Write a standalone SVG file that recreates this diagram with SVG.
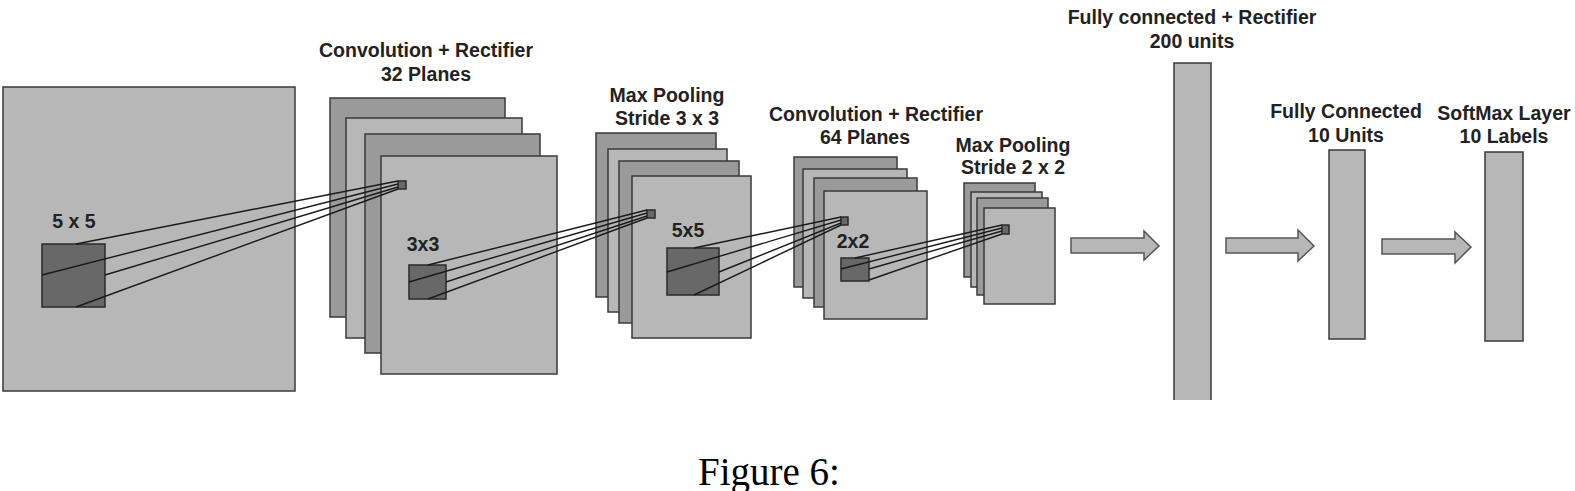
<svg xmlns="http://www.w3.org/2000/svg" width="1575" height="491" viewBox="0 0 1575 491">
<style>
.lt{fill:#b7b7b7;stroke:#3a3a3a;stroke-width:1.5}
.dk{fill:#9a9a9a;stroke:#3a3a3a;stroke-width:1.5}
.sq{fill:#686868;stroke:#2a2a2a;stroke-width:1.5}
.ln{stroke:#1a1a1a;stroke-width:1.4;fill:none}
.ar{fill:#b7b7b7;stroke:#555;stroke-width:1.5}
.lb{font-family:"Liberation Sans",Arial,sans-serif;font-weight:bold;font-size:19.5px;fill:#222;text-anchor:middle}
.cap{font-family:"Liberation Serif","Times New Roman",serif;font-size:39px;fill:#000}
</style>
<rect width="1575" height="491" fill="#fff"/>
<g id="input">
<rect class="lt" x="3" y="87" width="292" height="304"/>
<rect class="sq" x="42" y="244" width="63" height="63"/>
<text class="lb" x="74" y="228">5 x 5</text>
</g>
<g id="conv1">
<text class="lb" x="426" y="57">Convolution + Rectifier</text>
<text class="lb" x="426" y="81">32 Planes</text>
<rect class="dk" x="330" y="98" width="175" height="219"/>
<rect class="lt" x="346" y="118" width="176" height="220"/>
<rect class="dk" x="365" y="134" width="175" height="219"/>
<rect class="lt" x="381" y="156" width="176" height="218"/>
<rect class="sq" x="398" y="181" width="8" height="8"/>
<rect class="sq" x="409" y="265" width="37" height="34"/>
<text class="lb" x="423" y="251">3x3</text>
</g>
<g id="pool1">
<text class="lb" x="667" y="102">Max Pooling</text>
<text class="lb" x="667" y="125">Stride 3 x 3</text>
<rect class="dk" x="596" y="133" width="120" height="164"/>
<rect class="lt" x="608" y="149" width="119" height="163"/>
<rect class="dk" x="619" y="161" width="120" height="162"/>
<rect class="lt" x="632" y="176" width="119" height="162"/>
<rect class="sq" x="647" y="210" width="8" height="8"/>
<rect class="sq" x="667" y="248" width="52" height="47"/>
<text class="lb" x="688" y="237">5x5</text>
</g>
<g id="conv2">
<text class="lb" x="876" y="121">Convolution + Rectifier</text>
<text class="lb" x="865" y="144">64 Planes</text>
<rect class="dk" x="794" y="157" width="103" height="130"/>
<rect class="lt" x="803" y="169" width="104" height="129"/>
<rect class="dk" x="814" y="178" width="103" height="129"/>
<rect class="lt" x="824" y="191" width="103" height="128"/>
<rect class="sq" x="841" y="217" width="7" height="8"/>
<rect class="sq" x="841" y="258" width="28" height="23"/>
<text class="lb" x="853" y="248">2x2</text>
</g>
<g id="pool2">
<text class="lb" x="1013" y="152">Max Pooling</text>
<text class="lb" x="1013" y="174">Stride 2 x 2</text>
<rect class="dk" x="964" y="183" width="71" height="94"/>
<rect class="lt" x="971" y="192" width="71" height="95"/>
<rect class="dk" x="977" y="198" width="71" height="97"/>
<rect class="lt" x="984" y="208" width="71" height="96"/>
<rect class="sq" x="1002" y="225" width="7" height="9"/>
</g>
<g id="fc1">
<text class="lb" x="1192" y="24">Fully connected + Rectifier</text>
<text class="lb" x="1192" y="48">200 units</text>
<rect x="1174" y="63" width="37" height="337" fill="#b7b7b7"/>
<path d="M1174 400 V63 H1211 V400" fill="none" stroke="#3a3a3a" stroke-width="1.5"/>
</g>
<g id="fc2">
<text class="lb" x="1346" y="118">Fully Connected</text>
<text class="lb" x="1346" y="142">10 Units</text>
<rect class="lt" x="1329" y="150" width="36" height="189"/>
</g>
<g id="softmax">
<text class="lb" x="1504" y="120">SoftMax Layer</text>
<text class="lb" x="1504" y="143">10 Labels</text>
<rect class="lt" x="1485" y="152" width="38" height="189"/>
</g>
<g id="connectors">
<line class="ln" x1="76" y1="244" x2="398" y2="181"/>
<line class="ln" x1="42" y1="275" x2="398" y2="184"/>
<line class="ln" x1="105" y1="275" x2="398" y2="187"/>
<line class="ln" x1="76" y1="307" x2="398" y2="189"/>
<line class="ln" x1="428" y1="265" x2="647" y2="210"/>
<line class="ln" x1="409" y1="282" x2="647" y2="213"/>
<line class="ln" x1="446" y1="282" x2="647" y2="216"/>
<line class="ln" x1="428" y1="299" x2="647" y2="218"/>
<line class="ln" x1="694" y1="248" x2="841" y2="217"/>
<line class="ln" x1="667" y1="272" x2="841" y2="220"/>
<line class="ln" x1="719" y1="272" x2="841" y2="223"/>
<line class="ln" x1="694" y1="295" x2="841" y2="225"/>
<line class="ln" x1="855" y1="258" x2="1002" y2="225"/>
<line class="ln" x1="841" y1="269" x2="1002" y2="228"/>
<line class="ln" x1="869" y1="269" x2="1002" y2="231"/>
<line class="ln" x1="869" y1="280" x2="1002" y2="234"/>
<polygon class="ar" points="1071,238 1144,238 1144,231 1159,246 1144,260 1144,253 1071,253"/>
<polygon class="ar" points="1226,238 1298,238 1298,230 1314,246 1298,261 1298,253 1226,253"/>
<polygon class="ar" points="1382,239 1455,239 1455,232 1471,247 1455,263 1455,254 1382,254"/>
</g>
<text class="cap" x="698" y="485">Figure 6:</text>
</svg>
